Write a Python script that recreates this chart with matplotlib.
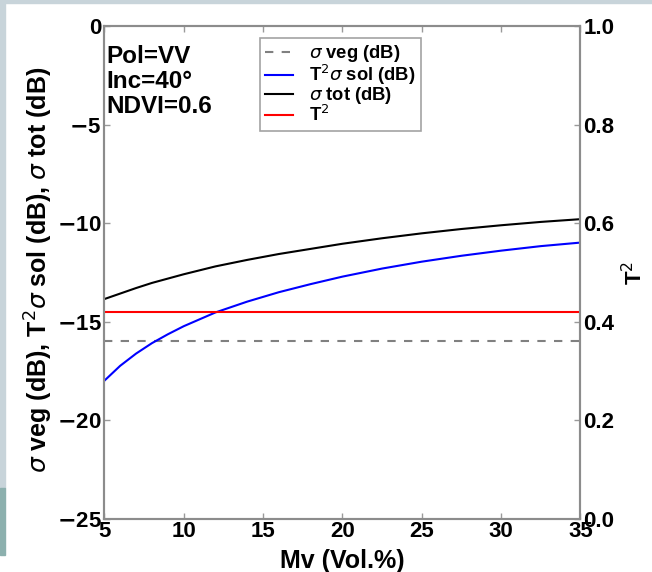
import matplotlib
matplotlib.use('Agg')
import matplotlib.pyplot as plt
from matplotlib.patches import Rectangle

# soil moisture (Vol.%) and backscatter terms read at these points
mv = [5, 6, 7, 8, 9, 10, 12, 14, 16, 18, 20, 22.5, 25, 27.5, 30, 32.5, 35]
sig_veg = [-16.0] * len(mv)
t2_sig_sol = [-18.0, -17.24, -16.62, -16.09, -15.64, -15.23, -14.53, -13.98, -13.5,
              -13.09, -12.71, -12.3, -11.95, -11.65, -11.39, -11.16, -10.98]
sig_tot = [-13.85, -13.57, -13.29, -13.03, -12.81, -12.59, -12.19, -11.86, -11.56,
           -11.3, -11.04, -10.76, -10.51, -10.29, -10.1, -9.93, -9.79]
t2 = [0.42] * len(mv)

left_ticks = [0, -5, -10, -15, -20, -25]
right_ticks = [0.0, 0.2, 0.4, 0.6, 0.8, 1.0]
x_ticks = [5, 10, 15, 20, 25, 30, 35]

plt.rcParams['font.family'] = ['Liberation Sans', 'DejaVu Sans']
plt.rcParams['font.weight'] = 'bold'
plt.rcParams['mathtext.fontset'] = 'custom'
plt.rcParams['mathtext.rm'] = 'DejaVu Sans:normal'
plt.rcParams['mathtext.it'] = 'DejaVu Sans:italic:normal'
plt.rcParams['mathtext.bf'] = 'DejaVu Sans:bold'
plt.rcParams['mathtext.default'] = 'it'

fig = plt.figure(figsize=(6.52, 5.72), dpi=100)
ax = fig.add_axes([0.16, 0.0935, 0.7303, 0.8602])
ax2 = ax.twinx()

l1, = ax.plot(mv, sig_veg, color='gray', ls='--', dashes=(4, 4), lw=1.5, label=r'$\sigma$ veg (dB)')
l2, = ax.plot(mv, t2_sig_sol, color='b', lw=1.5, label=r'T$^2$$\sigma$ sol (dB)')
l3, = ax.plot(mv, sig_tot, color='k', lw=1.5, label=r'$\sigma$ tot (dB)')
l4, = ax2.plot(mv, t2, color='r', lw=1.5, label=r'T$^2$')

ax.set_xlim(5, 35)
ax.set_ylim(-25, 0)
ax2.set_ylim(0, 1)
ax.set_xticks(x_ticks)
ax.set_yticks(left_ticks)
ax.set_yticklabels([r'$\mathbf{-}$%d' % -t if t < 0 else '%d' % t for t in left_ticks])
ax2.set_yticks(right_ticks)
ax2.set_yticklabels(['%.1f' % t for t in right_ticks])

for a in (ax, ax2):
    for s in a.spines.values():
        s.set_color('#8c8c8c')
        s.set_linewidth(1.5)
    a.tick_params(direction='in', length=4, width=1, color='#9a9a9a', labelsize=16, pad=2)
ax.tick_params(top=True)

ax.set_xlabel('Mv (Vol.%)', fontsize=18, fontweight='bold')
ax.xaxis.set_label_coords(0.5, -0.062)
ax.set_ylabel(r'$\sigma$ veg (dB), T$^2$$\sigma$ sol (dB), $\sigma$ tot (dB)', fontsize=18, fontweight='bold')
ax.yaxis.set_label_coords(-0.104, 0.505)
ax2.set_ylabel(r'T$^2$', fontsize=16, fontweight='bold')
ax2.yaxis.set_label_coords(1.088, 0.5)

ax.text(0.004, 0.962, 'Pol=VV\nInc=40°\nNDVI=0.6', transform=ax.transAxes,
        fontsize=17.5, fontweight='bold', va='top', ha='left', linespacing=1.1)

leg = ax.legend(handles=[l1, l2, l3, l4], loc='upper left', bbox_to_anchor=(0.326, 0.977),
                borderaxespad=0, fancybox=False, handlelength=1.55, handletextpad=0.85,
                labelspacing=-0.08, borderpad=0.3, prop={'weight': 'bold', 'size': 13.2})
leg.get_frame().set_edgecolor('#8c8c8c')
leg.get_frame().set_linewidth(1.2)

# window edges around the plot
fig.patches.append(Rectangle((0, 1 - 3 / 572), 1, 3 / 572, transform=fig.transFigure,
                             color='#c8d4da', zorder=-1))
fig.patches.append(Rectangle((0, 1 - 488 / 572), 5 / 652, 488 / 572, transform=fig.transFigure,
                             color='#c8d4da', zorder=-1))
fig.patches.append(Rectangle((0, 1 - 555 / 572), 5 / 652, 67 / 572, transform=fig.transFigure,
                             color='#8cb0ae', zorder=-1))

fig.savefig('out.png', dpi=100)
